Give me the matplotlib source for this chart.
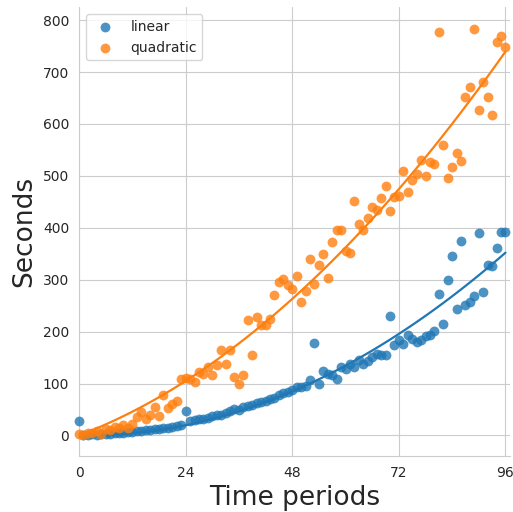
import numpy as np
import matplotlib
matplotlib.use("Agg")
import matplotlib.pyplot as plt
import seaborn as sns

# time periods, one observation per period
periods = list(range(97))

linear = [27, 1, 0, 2, 1, 2, 3, 2, 4, 5,
          4, 6, 7, 8, 8, 10, 11, 12, 13, 14,
          15, 17, 18, 20, 48, 27, 29, 32, 31, 34,
          37, 40, 39, 43, 48, 51, 49, 54, 57, 59,
          62, 64, 67, 70, 73, 78, 81, 84, 88, 93,
          93, 96, 106, 178, 100, 125, 118, 116, 109, 132,
          128, 138, 132, 145, 138, 144, 151, 157, 154, 155,
          231, 175, 183, 177, 193, 186, 180, 183, 191, 193,
          201, 273, 214, 300, 345, 244, 375, 252, 257, 268,
          390, 276, 329, 326, 362, 392, 392]

quadratic = [3, 0, 5, 4, 8, 2, 12, 10, 16, 14,
             20, 15, 22, 35, 45, 32, 40, 55, 38, 77,
             52, 61, 67, 109, 110, 108, 103, 122, 119, 132,
             116, 135, 164, 138, 164, 112, 100, 116, 222, 154,
             228, 212, 213, 225, 270, 295, 302, 289, 283, 308,
             257, 278, 340, 292, 329, 349, 304, 372, 395, 395,
             355, 351, 451, 408, 395, 419, 440, 434, 458, 480,
             432, 459, 462, 509, 469, 493, 504, 530, 499, 526,
             522, 777, 560, 496, 517, 544, 528, 651, 672, 782,
             627, 681, 651, 618, 757, 769, 748]

sns.set_style("whitegrid")
plt.rcParams['font.family'] = ['DejaVu Sans']

fig = plt.figure(figsize=(5.13, 5.12), dpi=100)
ax = fig.add_axes((0.154, 0.109, 0.840, 0.877))

x = np.asarray(periods, dtype=float)
xs = np.linspace(x.min(), x.max(), 100)
for values, color, label in [(linear, "#1f77b4", "linear"),
                             (quadratic, "#ff7f0e", "quadratic")]:
    y = np.asarray(values, dtype=float)
    ax.scatter(x, y, s=50, color=color, alpha=0.8, linewidths=0,
               label=label, clip_on=False, zorder=3)
    # least squares fit of b*x + c*x**2 (no constant term, starts at zero)
    design = np.column_stack([x, x ** 2])
    (b, c), _, _, _ = np.linalg.lstsq(design, y, rcond=None)
    ax.plot(xs, b * xs + c * xs ** 2, color=color, lw=1.6, zorder=3)

ax.set_xlim(0, 97)
ax.set_ylim(-40, 825)
ax.set_xticks([0, 24, 48, 72, 96])
ax.set_yticks(range(0, 801, 100))
ax.tick_params(labelsize=10, colors="#262626")
for side in ["top", "right"]:
    ax.spines[side].set_visible(False)
for side in ["left", "bottom"]:
    ax.spines[side].set_color("#cccccc")

ax.set_xlabel("Time periods", fontsize=19, color="#262626")
ax.set_ylabel("Seconds", fontsize=19, color="#262626")

ax.legend(loc="upper left", fontsize=10, frameon=True)

fig.savefig("out.png", dpi=100)
